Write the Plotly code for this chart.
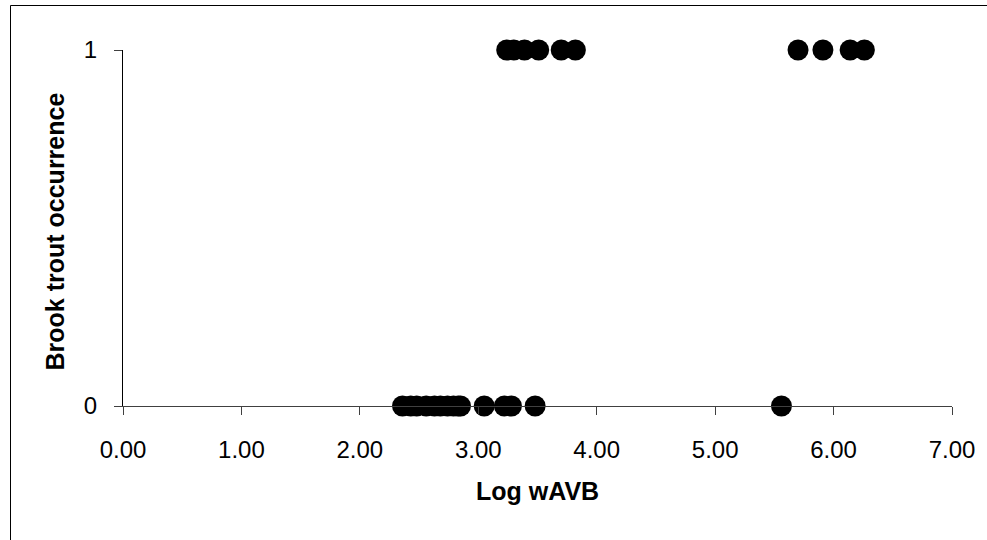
import plotly.graph_objects as go

# Data
absent_x = [2.36, 2.43, 2.48, 2.56, 2.63, 2.68, 2.74, 2.79, 2.83, 2.85,
            3.05, 3.22, 3.28, 3.48, 5.56]
present_x = [3.24, 3.30, 3.39, 3.51, 3.70, 3.82, 5.70, 5.91, 6.14, 6.26]
absent_y = [0] * len(absent_x)
present_y = [1] * len(present_x)

x_ticks = [0, 1, 2, 3, 4, 5, 6, 7]
y_ticks = [0, 1]

FONT = "Liberation Sans, Arial, sans-serif"

fig = go.Figure()
marker = dict(color="black", size=21, line=dict(width=0))
fig.add_trace(go.Scatter(x=absent_x, y=absent_y, mode="markers",
                         marker=marker, cliponaxis=False, showlegend=False))
fig.add_trace(go.Scatter(x=present_x, y=present_y, mode="markers",
                         marker=marker, cliponaxis=False, showlegend=False))

fig.update_layout(
    width=987, height=540,
    margin=dict(l=123, r=35, t=50, b=134),
    paper_bgcolor="white", plot_bgcolor="white",
    font=dict(family=FONT, size=24, color="black"),
    xaxis=dict(range=[0, 7], tickvals=x_ticks, tickformat=".2f",
               showgrid=False, zeroline=False, showline=True,
               linecolor="#404040", linewidth=1,
               ticks="outside", ticklen=8, tickcolor="#404040",
               ticklabelstandoff=14,
               tickfont=dict(size=24)),
    yaxis=dict(range=[0, 1], tickvals=y_ticks, tickformat="d",
               showgrid=False, zeroline=False, showline=True,
               linecolor="black", linewidth=1,
               ticks="outside", ticklen=8, tickcolor="#404040",
               ticklabelstandoff=12,
               tickfont=dict(size=24)),
    annotations=[
        dict(text="<b>Log wAVB</b>", xref="paper", yref="paper",
             x=0.5, y=-0.2385, yanchor="middle", xanchor="center",
             showarrow=False, font=dict(size=25)),
        dict(text="<b>Brook trout occurrence</b>", xref="paper", yref="paper",
             x=-0.0821, y=0.49, xanchor="center", yanchor="middle",
             textangle=-90, showarrow=False, font=dict(size=25)),
    ],
    shapes=[
        dict(type="line", xref="paper", yref="paper",
             x0=-0.1357, x1=-0.1357, y0=1.125, y1=-0.4, line=dict(color="black", width=1)),
        dict(type="line", xref="paper", yref="paper",
             x0=-0.1357, x1=1.05, y0=1.125, y1=1.125, line=dict(color="black", width=1)),
    ],
)

fig.write_html("out.html", config={"displayModeBar": False},
               post_script="document.body.style.margin='0';")
